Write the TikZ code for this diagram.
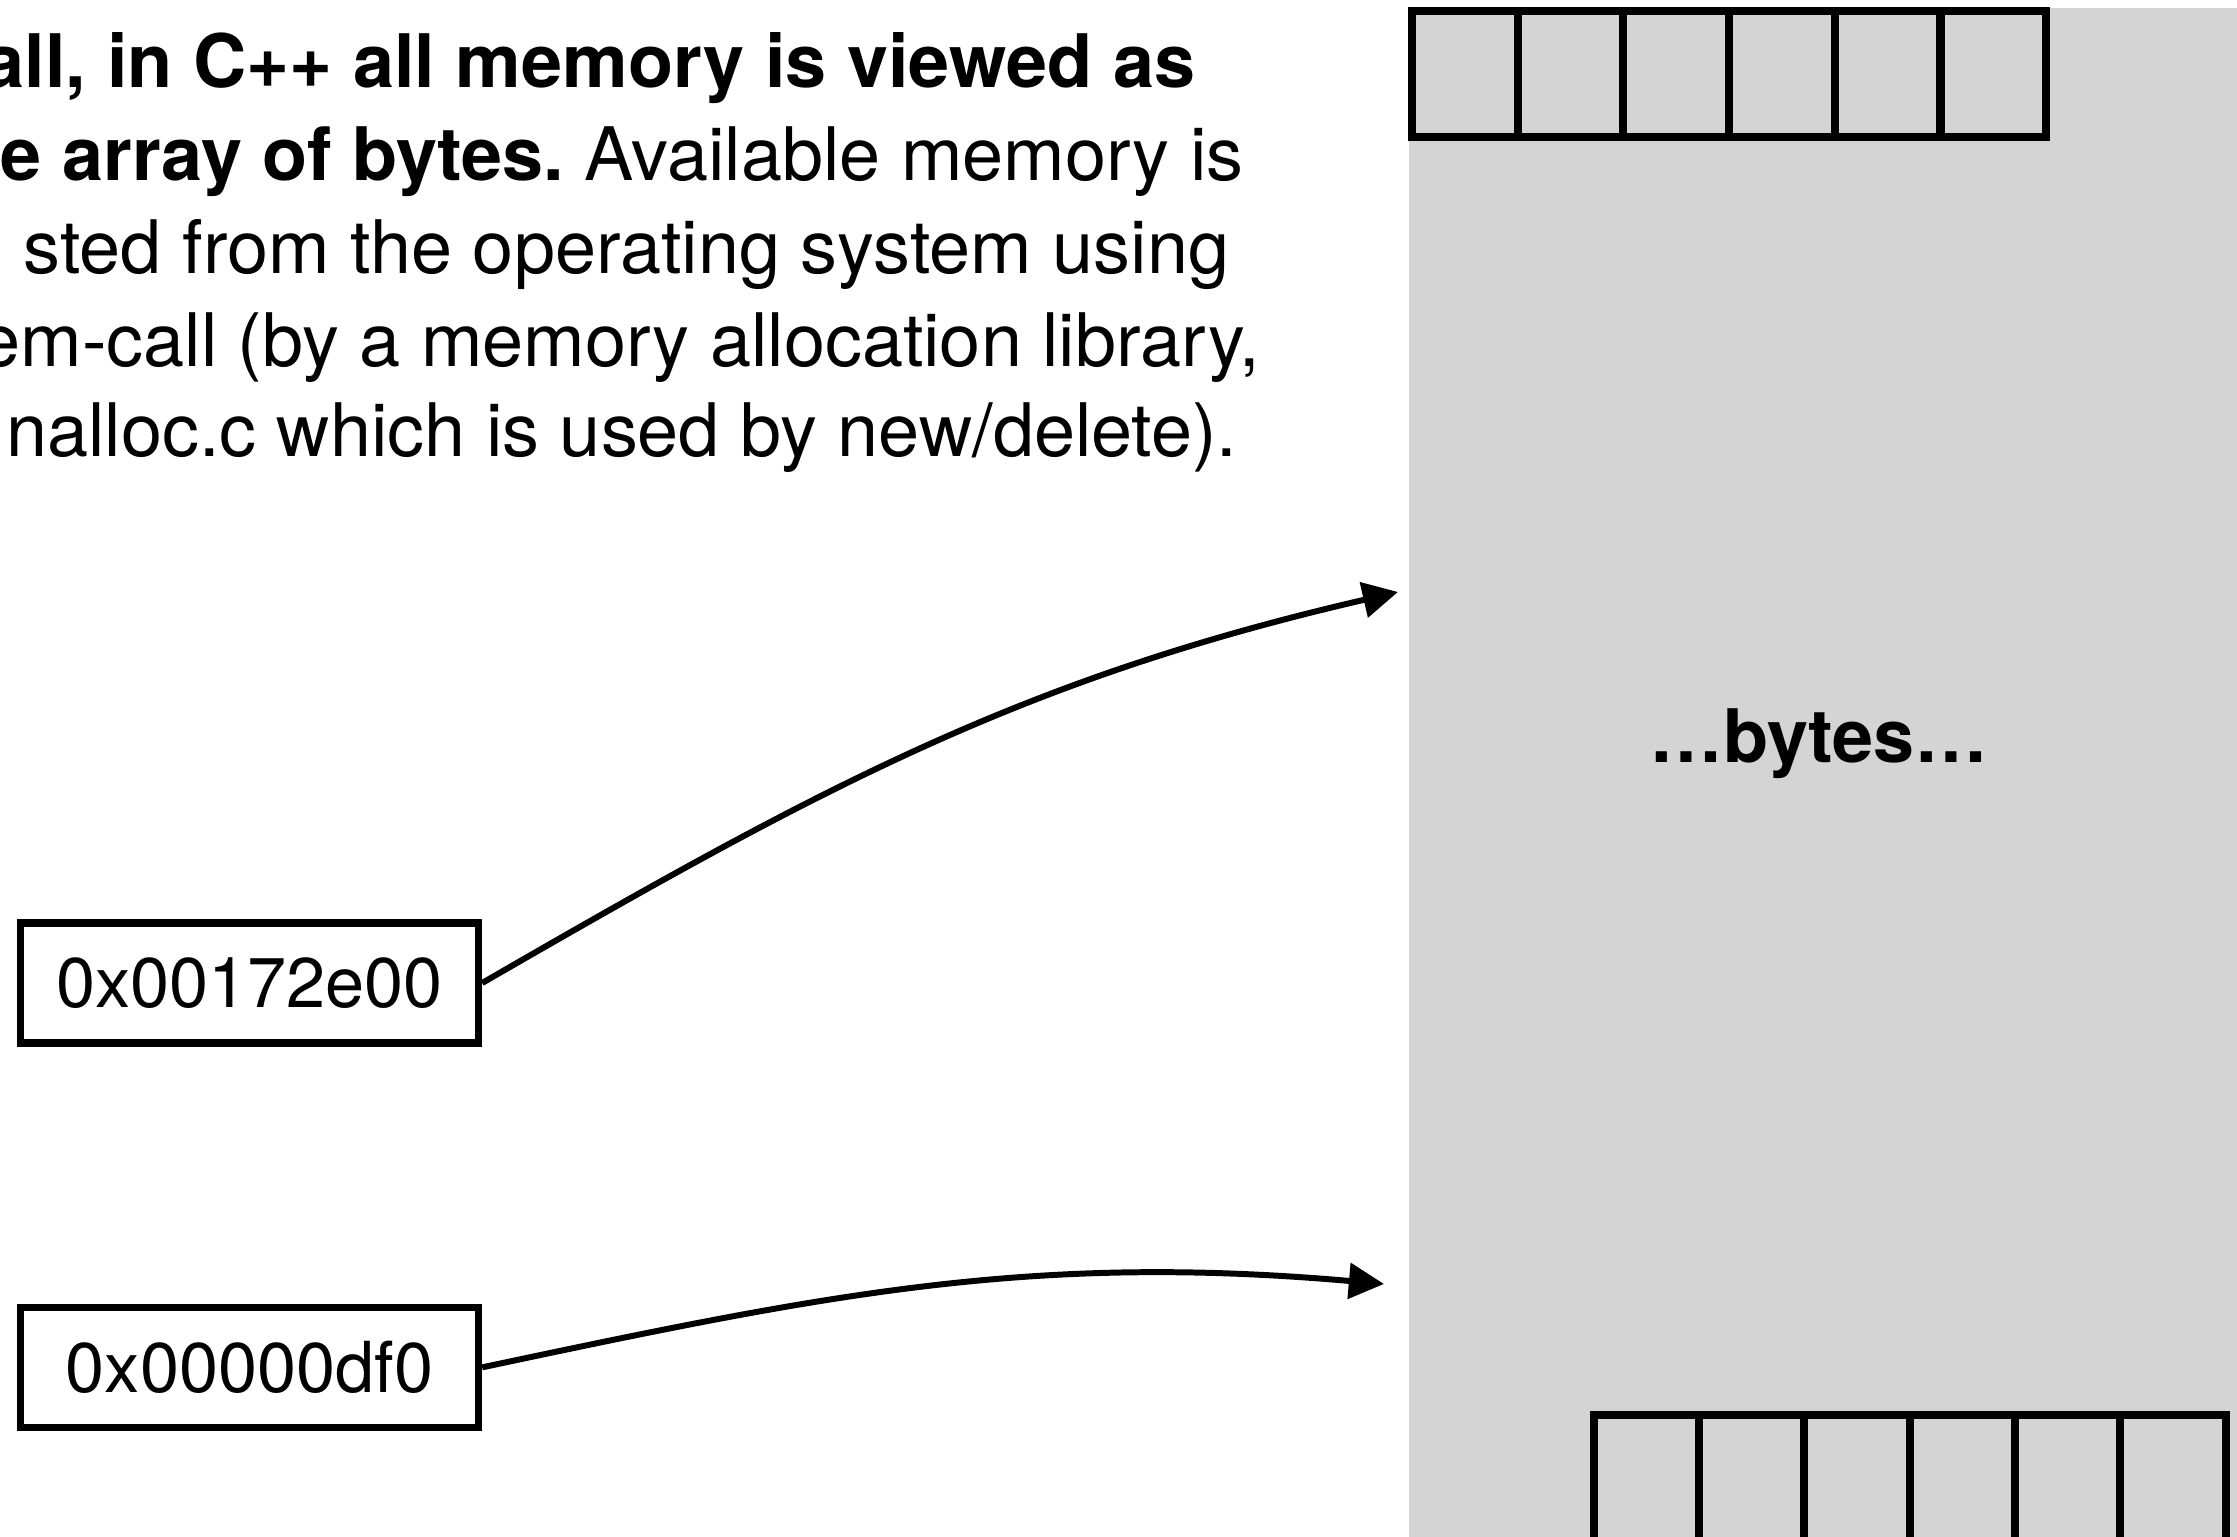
\documentclass[tikz,border=0pt]{standalone}
\usepackage{fontspec}
\setmainfont{TeX Gyre Heros}
\usetikzlibrary{arrows.meta, positioning}
\definecolor{memgray}{RGB}{212,212,212}

\begin{document}
\frenchspacing
\begin{tikzpicture}[
    cell/.style={rectangle, draw=black, fill=memgray, line width=2.3pt,
                 minimum width=1.057cm, minimum height=1.26cm, inner sep=0pt},
    addr/.style={rectangle, draw=black, fill=white, line width=2.1pt,
                 minimum width=4.58cm, minimum height=1.2cm, inner sep=0pt,
                 font=\fontsize{20}{24}\selectfont},
    para/.style={anchor=base east, inner sep=0pt, font=\fontsize{21}{26}\selectfont},
    arrow/.style={-{Triangle[length=10pt, width=10pt]}, line width=1.7pt}
]
\useasboundingbox (0,0) rectangle (22.37,15.37);
\clip (0,0) rectangle (22.37,15.37);

% Memory block
\node[fill=memgray, minimum width=8.4cm, minimum height=15.6cm, inner sep=0pt,
      anchor=north west] (mem) at (14.08,15.30) {};

% Text
\node[para] (line1) at (11.96,14.49) {\bfseries all, in C++ all memory is viewed as};
\node[para] (line2) at (12.44,13.56) {\textbf{e array of bytes.} Available memory is};
\node[para] (line3) at (12.30,12.63) {sted from the operating system using};
\node[para] (line4) at (12.61,11.70) {em-call (by a memory allocation library,};
\node[para] (line5) at (12.38,10.80) {nalloc.c which is used by new/delete).};

% Byte cells
\foreach \i in {1,...,6} {
  \node[cell] (top\i) at ({14.12+(\i-0.5)*1.057},14.63) {};
  \node[cell, minimum height=1.45cm] (bot\i) at ({15.94+(\i-0.5)*1.053},0.495) {};
}

\node[font=\bfseries\fontsize{21}{24}\selectfont] (bytes) at (18.19,7.93) {…bytes…};

% Addresses
\node[addr] (addr1) at (2.495,5.54) {0x00172e00};
\node[addr, below=2.57cm of addr1] (addr2) {0x00000df0};

% Pointers
\coordinate (tip1) at (13.98,9.45);
\coordinate (tip2) at (13.84,2.53);
\draw[arrow] (addr1.east) to[out=30, in=193] (tip1);
\draw[arrow] (addr2.east) to[out=12, in=175] (tip2);

\end{tikzpicture}
\end{document}
